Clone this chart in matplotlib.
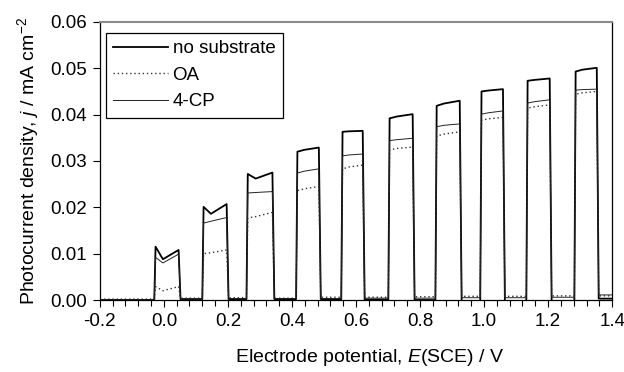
import matplotlib
matplotlib.use("Agg")
import matplotlib.pyplot as plt
from matplotlib.ticker import MultipleLocator, FormatStrFormatter

plt.rcParams["font.family"] = ["Liberation Sans", "DejaVu Sans"]
plt.rcParams["mathtext.fontset"] = "custom"
plt.rcParams["mathtext.it"] = "Liberation Sans:italic"
plt.rcParams["mathtext.rm"] = "Liberation Sans"

# light-on / light-off potentials of each chopped pulse (V vs SCE)
E_on = [-0.028, 0.122, 0.260, 0.415, 0.556, 0.703, 0.850, 0.990, 1.134, 1.284]
E_off = [0.047, 0.197, 0.340, 0.485, 0.622, 0.778, 0.925, 1.060, 1.206, 1.353]

# plateau photocurrent (mA cm-2): start / middle / end of each pulse
nosub_start = [0.0115, 0.0201, 0.0272, 0.0320, 0.0363, 0.0392, 0.0419, 0.0450, 0.0473, 0.0493]
nosub_mid = [0.0088, 0.0186, 0.0262, 0.0324, 0.0364, 0.0396, 0.0424, 0.0452, 0.0475, 0.0497]
nosub_end = [0.0108, 0.0207, 0.0275, 0.0329, 0.0365, 0.0401, 0.0430, 0.0455, 0.0478, 0.0501]

oa_start = [0.0029, 0.0100, 0.0177, 0.0236, 0.0283, 0.0324, 0.0354, 0.0388, 0.0414, 0.0444]
oa_mid = [0.0020, 0.0102, 0.0180, 0.0240, 0.0287, 0.0327, 0.0358, 0.0391, 0.0417, 0.0447]
oa_end = [0.0029, 0.0108, 0.0189, 0.0245, 0.0291, 0.0330, 0.0363, 0.0394, 0.0421, 0.0450]

cp_start = [0.0092, 0.0166, 0.0231, 0.0274, 0.0311, 0.0344, 0.0374, 0.0401, 0.0425, 0.0453]
cp_mid = [0.0080, 0.0170, 0.0232, 0.0278, 0.0313, 0.0346, 0.0377, 0.0404, 0.0428, 0.0454]
cp_end = [0.0099, 0.0178, 0.0234, 0.0283, 0.0315, 0.0349, 0.0380, 0.0408, 0.0432, 0.0455]

# dark current before the first pulse and after every pulse
nosub_dark = [0.0, 0.0002, 0.0002, 0.0002, 0.0002, 0.0001, 0.0, -0.0003, -0.0003, -0.0002, 0.0003]
oa_dark = [0.0002, 0.0004, 0.0005, 0.0004, 0.0006, 0.0006, 0.0007, 0.0008, 0.0008, 0.0009, 0.0009]
cp_dark = [0.0, 0.0002, 0.0003, 0.0003, 0.0003, 0.0004, 0.0004, 0.0005, 0.0005, 0.0006, 0.0011]

E_min, E_max = -0.2, 1.4


def chopped_trace(start, mid, end, dark):
    xs, ys = [E_min], [dark[0]]
    for i in range(len(E_on)):
        width = E_off[i] - E_on[i]
        xs += [E_on[i] - 0.002, E_on[i] + 0.002, E_on[i] + width / 3, E_off[i] - 0.001, E_off[i] + 0.005]
        ys += [dark[i], start[i], mid[i], end[i], dark[i + 1]]
    xs.append(E_max)
    ys.append(dark[-1])
    return xs, ys


fig = plt.figure(figsize=(6.24, 3.72), dpi=100)
ax = fig.add_axes([0.160, 0.1935, 0.821, 0.7475])

x, y = chopped_trace(nosub_start, nosub_mid, nosub_end, nosub_dark)
ax.plot(x, y, color="black", linewidth=1.3, label="no substrate")
x, y = chopped_trace(oa_start, oa_mid, oa_end, oa_dark)
ax.plot(x, y, color="#333333", linewidth=1.0, linestyle=(0, (1, 2)), label="OA")
x, y = chopped_trace(cp_start, cp_mid, cp_end, cp_dark)
ax.plot(x, y, color="#222222", linewidth=0.7, label="4-CP")

ax.set_xlim(E_min, E_max)
ax.set_ylim(0, 0.06)
ax.xaxis.set_major_locator(MultipleLocator(0.2))
ax.xaxis.set_minor_locator(MultipleLocator(0.04))
ax.yaxis.set_major_locator(MultipleLocator(0.01))
ax.xaxis.set_major_formatter(FormatStrFormatter("%.1f"))
ax.yaxis.set_major_formatter(FormatStrFormatter("%.2f"))
ax.tick_params(axis="both", which="major", direction="out", length=5, width=0.8,
               labelsize=13.5, pad=4)
ax.tick_params(axis="x", which="minor", direction="out", length=4, width=0.8)

for side in ["left", "bottom", "right"]:
    ax.spines[side].set_color("black")
    ax.spines[side].set_linewidth(0.9)
ax.spines["top"].set_color("#8a8a8a")
ax.spines["top"].set_linewidth(1.5)

ax.set_xlabel("Electrode potential, $E$(SCE) / V", fontsize=14, labelpad=8)
ax.xaxis.set_label_coords(0.527, -0.17)
ax.set_ylabel("Photocurrent density, $j$ / mA cm$^{-2}$", fontsize=14, labelpad=7)

leg = ax.legend(loc="upper left", bbox_to_anchor=(0.012, 0.962), fontsize=13.5,
                handlelength=2.9, handletextpad=0.25, labelspacing=0.5,
                borderaxespad=0, borderpad=0.4, fancybox=False, framealpha=1)
leg.get_frame().set_edgecolor("black")
leg.get_frame().set_linewidth(0.9)

fig.savefig("out.png", dpi=100)
